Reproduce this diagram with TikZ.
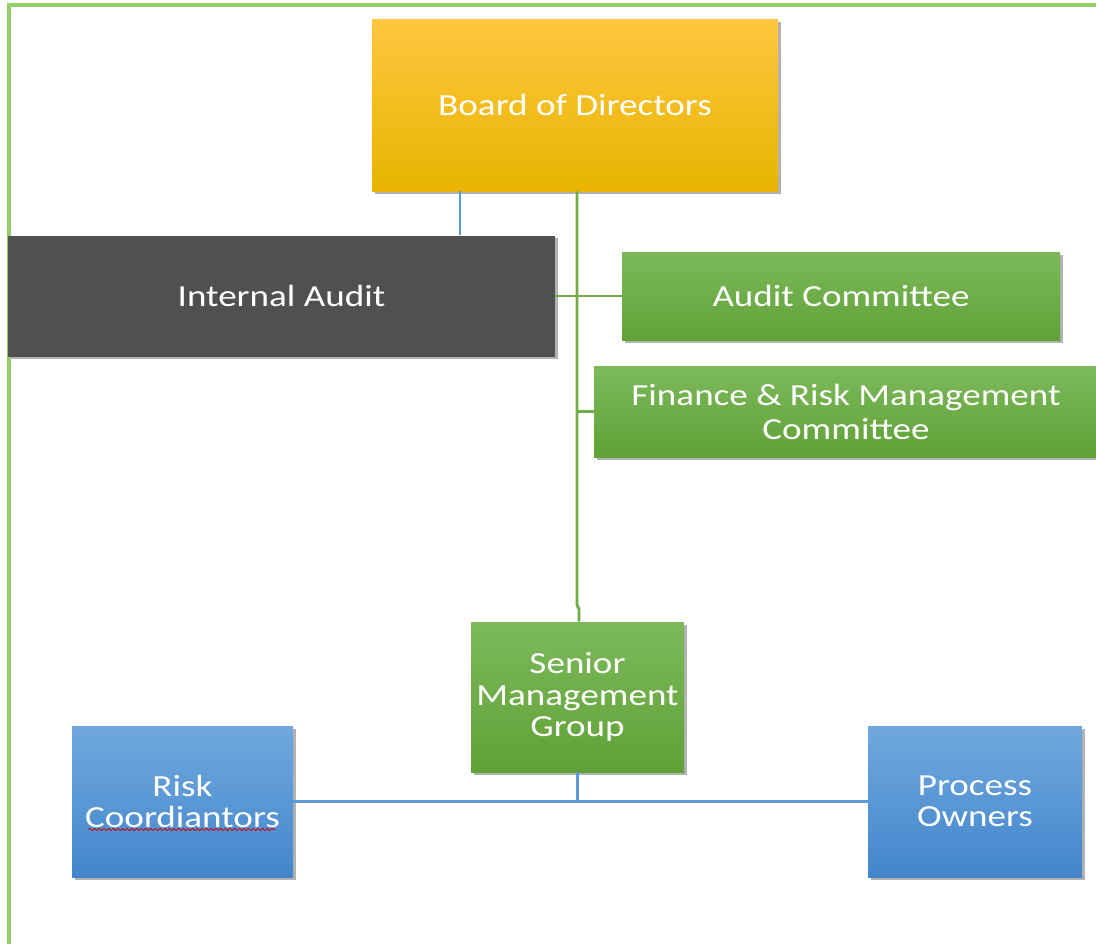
\documentclass[tikz,border=0pt]{standalone}
\usepackage{fontspec}
\setmainfont{Carlito}[FakeStretch=1.21]
\usetikzlibrary{shadows,decorations.pathmorphing,calc}
\definecolor{bdtop}{HTML}{FFC640}
\definecolor{bdmid}{HTML}{FFC000}
\definecolor{bdbot}{HTML}{E8B400}
\definecolor{grtop}{HTML}{7DB95B}
\definecolor{grmid}{HTML}{6EAD47}
\definecolor{grbot}{HTML}{60A137}
\definecolor{bltop}{HTML}{70A8DE}
\definecolor{blmid}{HTML}{5A98D6}
\definecolor{blbot}{HTML}{4386CC}
\definecolor{iagray}{HTML}{505050}
\definecolor{lineblue}{HTML}{5B9BD5}
\definecolor{linegreen}{HTML}{70AD47}
\definecolor{framegreen}{HTML}{94D06A}
\tikzset{
  boxbase/.style={rectangle, inner sep=0pt, align=center, text=white,
    font=\fontsize{23}{24.5}\selectfont,
    drop shadow={shadow xshift=2pt, shadow yshift=-2pt, fill=black, opacity=0.3}},
  boardbox/.style={boxbase, top color=bdtop, middle color=bdmid, bottom color=bdbot},
  greenbox/.style={boxbase, top color=grtop, middle color=grmid, bottom color=grbot},
  bluebox/.style={boxbase, top color=bltop, middle color=blmid, bottom color=blbot},
  graybox/.style={boxbase, fill=iagray},
  bline/.style={draw=lineblue, line width=2.1pt},
  gline/.style={draw=linegreen, line width=2.2pt},
  frameline/.style={draw=framegreen, line width=2.8pt},
  spell/.style={draw=red!80!black, line width=0.6pt, decorate,
    decoration={snake, amplitude=0.8pt, segment length=3.5pt}}
}
\begin{document}
\begin{tikzpicture}[x=0.75pt,y=-0.75pt]
\useasboundingbox (0,0) rectangle (1096,943);
\draw[frameline] (9,5) rectangle (1130,980);

\node[boardbox, minimum width=304.5pt, minimum height=129pt] (board) at (575,105) {Board of Directors};
\node[graybox, minimum width=410.25pt, minimum height=90.75pt] (ia) at (281.5,296) {Internal Audit};
\node[greenbox, minimum width=328.5pt, minimum height=66pt] (ac) at (841,296) {Audit Committee};
\node[greenbox, minimum width=378pt, minimum height=68.25pt, font=\fontsize{23}{25.5}\selectfont] (frm) at (846,411.5) {Finance \& Risk Management\\Committee};
\node[greenbox, minimum width=159.75pt, minimum height=112.5pt, font=\fontsize{23}{23.6}\selectfont] (smg) at (577.5,697) {Senior\\Management\\Group};
\node[bluebox, minimum width=165.75pt, minimum height=113.25pt, font=\fontsize{23}{23.3}\selectfont] (rc) at (182.5,801.5) {Risk\\Coordiantors};
\node[bluebox, minimum width=160.5pt, minimum height=113.25pt, font=\fontsize{23}{23.3}\selectfont] (po) at (975,801.5) {Process\\Owners};

% connectors
\coordinate (bx) at (460,0);
\coordinate (tx) at (577,0);
\coordinate (jog1) at (577,605);
\coordinate (jog2) at (579,609);
\draw[bline] (board.south -| bx) -- (ia.north -| bx);
\draw[gline] (ia.east) -- (ia.east -| ac.west);
\draw[gline] (frm.west -| tx) -- (frm.west);
\draw[gline] (board.south -| tx) -- (jog1) -- (jog2) -- (smg.north -| jog2);
\draw[bline] (smg.south) -- (smg.south |- rc.east);
\draw[bline] (rc.east) -- (po.west);

% spelling underline
\draw[spell] ($(rc.center)+(-94,28)$) -- ($(rc.center)+(93,28)$);
\end{tikzpicture}
\end{document}
